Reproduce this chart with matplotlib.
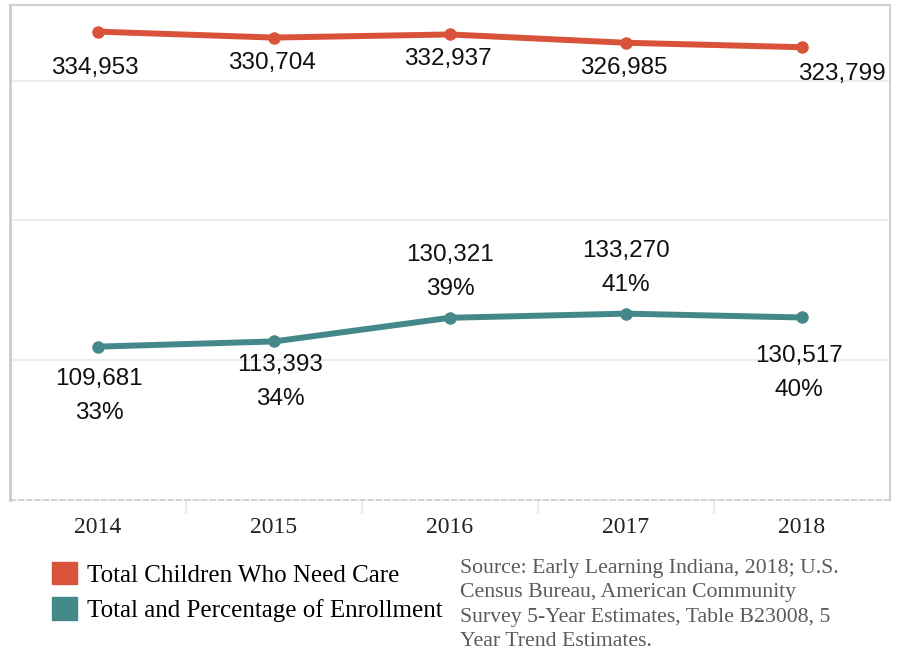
import matplotlib.pyplot as plt
from matplotlib.patches import Patch
from matplotlib.ticker import FixedLocator

# data
years = ["2014", "2015", "2016", "2017", "2018"]
need_care = [334953, 330704, 332937, 326985, 323799]
enrollment = [109681, 113393, 130321, 133270, 130517]
enroll_pct = ["33%", "34%", "39%", "41%", "40%"]

RED = "#d9533b"
TEAL = "#44888a"
SERIF = ["Liberation Serif", "DejaVu Serif"]
SANS = ["Liberation Sans", "DejaVu Sans"]

fig = plt.figure(figsize=(9.03, 6.53), dpi=100)
ax = fig.add_axes([10 / 903, 153 / 653, 880 / 903, 495 / 653])

x = list(range(len(years)))
ax.plot(x, need_care, color=RED, lw=4.3, marker="o", ms=8, zorder=3)
ax.plot(x, enrollment, color=TEAL, lw=4.3, marker="o", ms=8, zorder=3)

ax.set_xlim(-0.5, 4.5)
ax.set_ylim(0, 354000)
ax.set_yticks([100000, 200000, 300000])
ax.tick_params(axis="y", length=0, labelleft=False)
ax.grid(axis="y", color="#ececec", lw=1.3)
ax.set_axisbelow(True)

ax.set_xticks(x)
ax.set_xticklabels(years, fontsize=17, family=SERIF, color="#222222")
ax.tick_params(axis="x", which="major", length=0, pad=12)
ax.xaxis.set_minor_locator(FixedLocator([0.5, 1.5, 2.5, 3.5]))
ax.tick_params(axis="x", which="minor", length=10, color="#e6e6e6", width=1.2)

for side in ["top", "right"]:
    ax.spines[side].set_color("#d0d0d0")
    ax.spines[side].set_linewidth(1.5)
ax.spines["left"].set_color("#cccccc")
ax.spines["left"].set_linewidth(2)
ax.spines["bottom"].set_color("#cccccc")
ax.spines["bottom"].set_linestyle((0, (3, 2)))
ax.spines["bottom"].set_linewidth(1.2)

# value labels (pixel offsets from each point)
red_off = [(-3, -36), (-2, -25), (-2, -25), (-2, -25), (40, -27)]
for i, v in enumerate(need_care):
    dx, dy = red_off[i]
    ax.annotate(f"{v:,}", (i, v), xytext=(dx, dy), textcoords="offset pixels",
                ha="center", va="center", fontsize=17.5, family=SANS, color="#111111")

teal_off = [(1, -32), (6, -24), (0, 63), (0, 63), (-3, -39)]
for i, v in enumerate(enrollment):
    dx, dy = teal_off[i]
    ax.annotate(f"{v:,}", (i, v), xytext=(dx, dy), textcoords="offset pixels",
                ha="center", va="center", fontsize=17.5, family=SANS, color="#111111")
    ax.annotate(enroll_pct[i], (i, v), xytext=(dx, dy - 34), textcoords="offset pixels",
                ha="center", va="center", fontsize=17.5, family=SANS, color="#111111")

handles = [Patch(color=RED), Patch(color=TEAL)]
fig.legend(handles, ["Total Children Who Need Care", "Total and Percentage of Enrollment"],
           loc="upper left", bbox_to_anchor=(52 / 903, 1 - 562 / 653), frameon=False,
           prop={"family": SERIF, "size": 18}, handlelength=1.0, handleheight=1.0,
           handletextpad=0.4, labelspacing=0.42, borderpad=0, borderaxespad=0)

source = ("Source: Early Learning Indiana, 2018; U.S.\n"
          "Census Bureau, American Community\n"
          "Survey 5-Year Estimates, Table B23008, 5\n"
          "Year Trend Estimates.")
fig.text(460 / 903, 1 - 559 / 653, source, ha="left", va="top", fontsize=15.7,
         family=SERIF, color="#5a5a5a", linespacing=1.38)

fig.savefig("out.png", dpi=100)
